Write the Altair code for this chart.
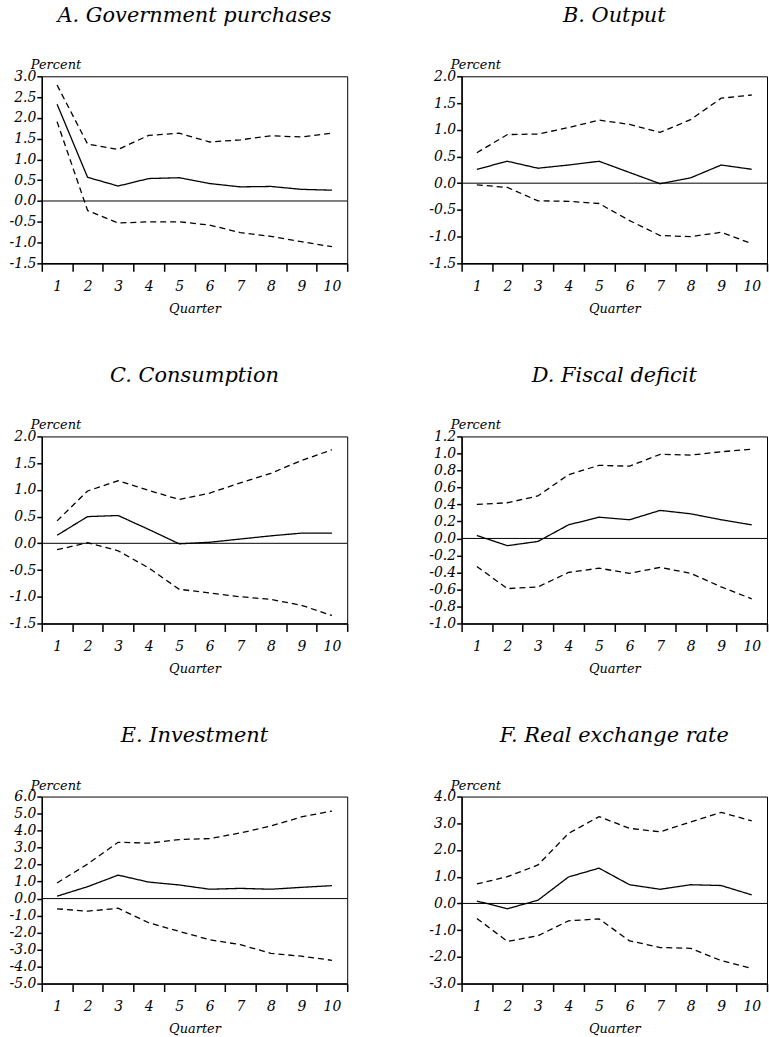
import altair as alt
import pandas as pd

quarters = [1, 2, 3, 4, 5, 6, 7, 8, 9, 10]

titles = ["A. Government purchases", "B. Output", "C. Consumption",
          "D. Fiscal deficit", "E. Investment", "F. Real exchange rate"]

# Panel A: Government purchases
a_est = [2.33, 0.57, 0.36, 0.54, 0.56, 0.42, 0.34, 0.35, 0.28, 0.26]
a_up = [2.79, 1.37, 1.24, 1.58, 1.63, 1.42, 1.47, 1.57, 1.54, 1.63]
a_lo = [1.91, -0.23, -0.53, -0.50, -0.50, -0.58, -0.76, -0.85, -0.98, -1.10]
# Panel B: Output
b_est = [0.26, 0.41, 0.28, 0.34, 0.41, 0.20, -0.01, 0.10, 0.34, 0.26]
b_up = [0.57, 0.91, 0.92, 1.04, 1.18, 1.10, 0.95, 1.19, 1.59, 1.65]
b_lo = [-0.03, -0.08, -0.33, -0.34, -0.38, -0.70, -0.98, -1.00, -0.92, -1.13]
# Panel C: Consumption
c_est = [0.15, 0.50, 0.52, 0.26, -0.01, 0.02, 0.08, 0.14, 0.19, 0.19]
c_up = [0.42, 0.98, 1.17, 0.99, 0.82, 0.94, 1.13, 1.31, 1.55, 1.75]
c_lo = [-0.12, 0.01, -0.14, -0.46, -0.86, -0.93, -1.00, -1.05, -1.16, -1.35]
# Panel D: Fiscal deficit
d_est = [0.035, -0.085, -0.035, 0.16, 0.25, 0.22, 0.33, 0.29, 0.22, 0.16]
d_up = [0.40, 0.42, 0.50, 0.75, 0.86, 0.85, 0.99, 0.98, 1.02, 1.05]
d_lo = [-0.33, -0.59, -0.57, -0.40, -0.35, -0.41, -0.34, -0.41, -0.57, -0.71]
# Panel E: Investment
e_est = [0.14, 0.70, 1.38, 0.97, 0.80, 0.55, 0.60, 0.55, 0.66, 0.76]
e_up = [0.92, 2.03, 3.31, 3.26, 3.47, 3.53, 3.86, 4.27, 4.80, 5.15]
e_lo = [-0.60, -0.74, -0.57, -1.42, -1.93, -2.42, -2.71, -3.22, -3.39, -3.63]
# Panel F: Real exchange rate
f_est = [0.09, -0.20, 0.12, 0.99, 1.32, 0.70, 0.53, 0.70, 0.67, 0.32]
f_up = [0.73, 1.00, 1.44, 2.62, 3.25, 2.81, 2.68, 3.05, 3.41, 3.09]
f_lo = [-0.56, -1.42, -1.21, -0.65, -0.58, -1.40, -1.65, -1.68, -2.14, -2.43]

y_domains = [[-1.5, 3.0], [-1.5, 2.0], [-1.5, 2.0], [-1.0, 1.2], [-5.0, 6.0], [-3.0, 4.0]]
y_ticks = [
    [-1.5, -1.0, -0.5, 0.0, 0.5, 1.0, 1.5, 2.0, 2.5, 3.0],
    [-1.5, -1.0, -0.5, 0.0, 0.5, 1.0, 1.5, 2.0],
    [-1.5, -1.0, -0.5, 0.0, 0.5, 1.0, 1.5, 2.0],
    [-1.0, -0.8, -0.6, -0.4, -0.2, 0.0, 0.2, 0.4, 0.6, 0.8, 1.0, 1.2],
    [-5.0, -4.0, -3.0, -2.0, -1.0, 0.0, 1.0, 2.0, 3.0, 4.0, 5.0, 6.0],
    [-3.0, -2.0, -1.0, 0.0, 1.0, 2.0, 3.0, 4.0],
]
x_ticks = [0.5, 1.5, 2.5, 3.5, 4.5, 5.5, 6.5, 7.5, 8.5, 9.5, 10.5]

series = [(a_est, a_up, a_lo), (b_est, b_up, b_lo), (c_est, c_up, c_lo),
          (d_est, d_up, d_lo), (e_est, e_up, e_lo), (f_est, f_up, f_lo)]

FONT = "DejaVu Serif"
W, H = 307, 188


def panel(i):
    est, up, lo = series[i]
    rows = []
    for name, vals in (("est", est), ("upper", up), ("lower", lo)):
        for q, v in zip(quarters, vals):
            rows.append({"quarter": q, "value": v, "series": name})
    df = pd.DataFrame(rows)
    x = alt.X("quarter:Q",
              scale=alt.Scale(domain=[0.5, 10.5], nice=False, zero=False),
              axis=alt.Axis(values=x_ticks, title="Quarter",
                            labelExpr="datum.value > 1 ? toString(datum.value - 0.5) : ''",
                            labelOffset=-W / 20, labelFlush=False, labelOverlap=False,
                            tickSize=8, labelPadding=8, grid=False,
                            titlePadding=9))
    y = alt.Y("value:Q",
              scale=alt.Scale(domain=y_domains[i], nice=False, zero=False),
              axis=alt.Axis(values=y_ticks[i], title=None, grid=False,
                            labelExpr="(datum.value < -0.0001 ? '-' : '') + format(abs(datum.value), '.1f')",
                            labelOverlap=False, labelFlush=False,
                            tickSize=5, labelPadding=1))
    lines = alt.Chart(df).mark_line(color="black", strokeWidth=1.3).encode(
        x=x, y=y,
        detail="series:N",
        strokeDash=alt.StrokeDash("series:N",
                                  scale=alt.Scale(domain=["est", "upper", "lower"],
                                                  range=[[1, 0], [6, 4], [6, 4]]),
                                  legend=None),
    )
    zero = alt.Chart(pd.DataFrame({"value": [0.0]})).mark_rule(
        color="black", strokeWidth=1).encode(y=y)
    unit = alt.Chart(pd.DataFrame({"t": ["Percent"]})).mark_text(
        font=FONT, fontStyle="italic", fontSize=13, align="left", baseline="bottom",
        color="black").encode(text="t:N", x=alt.value(-11), y=alt.value(-4))
    return alt.layer(zero, lines, unit).properties(
        width=W, height=H,
        title=alt.TitleParams(titles[i], fontSize=21, font=FONT, fontStyle="italic",
                              fontWeight="normal", offset=34, anchor="middle", color="black"),
    )


chart = alt.concat(*[panel(i) for i in range(6)], columns=2,
                   spacing={"row": 48, "column": 79}).properties(
    padding={"left": 8, "top": 1, "right": 0, "bottom": 2},
    background="white",
).configure_view(stroke="black", strokeWidth=1).configure_axis(
    domainColor="black", domainWidth=1.5, tickColor="black", tickWidth=1.5,
    labelFont=FONT, labelFontStyle="italic", labelFontSize=14, labelColor="black",
    titleFont=FONT, titleFontStyle="italic", titleFontSize=13, titleFontWeight="normal",
    titleColor="black"
)

chart.save("out.html", embed_options={"renderer": "svg", "actions": False})
